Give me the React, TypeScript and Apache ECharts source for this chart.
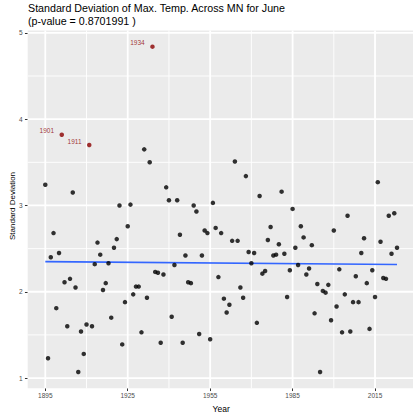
import React, { useEffect, useRef } from "react";
import * as echarts from "echarts";

// June standard deviation of max temperature, one value per year from 1895
const firstYear = 1895;
const sdValues = [
  3.24, 1.23, 2.40, 2.68, 1.81, 2.45, 3.82, 2.11, 1.60, 2.15,
  3.15, 2.05, 1.07, 1.54, 1.28, 1.62, 3.70, 1.60, 2.32, 2.57,
  2.43, 2.02, 2.10, 2.33, 1.70, 2.51, 2.61, 3.00, 1.39, 1.88,
  2.76, 3.01, 1.97, 2.06, 2.06, 1.53, 3.65, 1.93, 3.50, 4.84,
  2.23, 2.22, 1.41, 2.20, 3.21, 3.06, 1.71, 2.31, 3.06, 2.66,
  1.41, 2.42, 2.11, 2.10, 3.00, 2.93, 1.51, 2.42, 2.71, 2.68,
  1.45, 3.03, 2.74, 2.17, 2.68, 1.92, 1.76, 1.85, 2.59, 3.51,
  2.59, 2.05, 1.93, 3.34, 2.46, 2.33, 2.45, 1.64, 3.11, 2.21,
  2.24, 2.60, 2.75, 2.42, 2.43, 2.55, 3.16, 2.44, 1.94, 2.25,
  2.96, 2.51, 2.31, 2.76, 2.63, 2.20, 2.27, 2.54, 1.75, 2.09,
  1.07, 2.01, 1.99, 2.08, 1.67, 2.71, 1.83, 2.26, 1.53, 1.97,
  2.88, 1.54, 1.88, 2.18, 1.88, 2.45, 2.62, 2.10, 1.57, 2.25,
  1.94, 3.27, 2.58, 2.16, 2.15, 2.88, 2.44, 2.91, 2.51,
];
const years = sdValues.map((_, i) => firstYear + i);

// Outlier years that get a red point and a year label
const highlightYears = [1901, 1911, 1934];

// Linear fit endpoints
const trendYears = [1895, 2023];
const trendValues = [2.35, 2.316];

const xBreaks = [1895, 1925, 1955, 1985, 2015];
const xMinorBreaks = [1910, 1940, 1970, 2000];
const yBreaks = [1, 2, 3, 4, 5];
const yMinorBreaks = [1.5, 2.5, 3.5, 4.5];

const titleText =
  "Standard Deviation of Max. Temp. Across MN for June\n(p-value = 0.8701991 )";
const yTitle = "Standard Deviation";

const FONT = "'Liberation Sans', Arial, Helvetica, sans-serif";

// ggplot-style 5% padding on each side of the data range
function expandRange(vals: number[]): [number, number] {
  const lo = Math.min(...vals);
  const hi = Math.max(...vals);
  const pad = (hi - lo) * 0.05;
  return [lo - pad, hi + pad];
}

export default function App() {
  const ref = useRef<HTMLDivElement>(null);

  useEffect(() => {
    if (!ref.current) return;
    const chart = echarts.init(ref.current, null, { renderer: "svg" });

    const [xMin, xMax] = expandRange(years);
    const [yMin, yMax] = expandRange(sdValues);

    const normalPts: number[][] = [];
    const redPts: any[] = [];
    years.forEach((yr, i) => {
      if (highlightYears.includes(yr)) {
        redPts.push({ value: [yr, sdValues[i]], label: { formatter: String(yr) } });
      } else {
        normalPts.push([yr, sdValues[i]]);
      }
    });

    // one short line series per white grid line
    const gridSeries = (vertical: boolean, v: number, major: boolean) => ({
      type: "line",
      z: 2,
      silent: true,
      symbol: "none",
      showSymbol: false,
      clip: false,
      data: vertical ? [[v, yMin], [v, yMax]] : [[xMin, v], [xMax, v]],
      lineStyle: { color: "#FFFFFF", width: major ? 1.8 : 0.9, opacity: 1 },
    });

    chart.setOption({
      animation: false,
      title: {
        text: titleText,
        left: 28,
        top: 2,
        padding: 0,
        textStyle: {
          fontFamily: FONT,
          fontSize: 10.7,
          lineHeight: 12.5,
          fontWeight: "normal",
          color: "#000000",
        },
      },
      graphic: [
        {
          type: "text",
          x: 12.3,
          y: 206,
          rotation: Math.PI / 2,
          style: {
            text: yTitle,
            fontFamily: FONT,
            fontSize: 8,
            fill: "#000000",
            align: "center",
            verticalAlign: "middle",
          },
        },
      ],
      grid: {
        left: 27.7,
        top: 30.4,
        width: 386.9,
        height: 357.9,
        containLabel: false,
        outerBoundsMode: "none",
        show: true,
        backgroundColor: "#EBEBEB",
        borderWidth: 0,
      },
      xAxis: {
        type: "value",
        min: xMin,
        max: xMax,
        name: "Year",
        nameLocation: "middle",
        nameGap: 11,
        nameTextStyle: { fontFamily: FONT, fontSize: 8.5, color: "#000000" },
        axisLine: { show: false },
        axisTick: {
          show: true,
          length: 2.75,
          lineStyle: { color: "#333333", width: 1 },
          customValues: xBreaks,
        },
        axisLabel: {
          fontFamily: FONT,
          fontSize: 6.5,
          color: "#4D4D4D",
          margin: 4,
          customValues: xBreaks,
          formatter: (v: number) => String(v),
        },
        splitLine: { show: false },
      },
      yAxis: {
        type: "value",
        min: yMin,
        max: yMax,
        axisLine: { show: false },
        axisTick: {
          show: true,
          length: 2.75,
          lineStyle: { color: "#333333", width: 1 },
          customValues: yBreaks,
        },
        axisLabel: {
          fontFamily: FONT,
          fontSize: 6.5,
          color: "#4D4D4D",
          margin: 5,
          customValues: yBreaks,
          formatter: (v: number) => String(v),
        },
        splitLine: { show: false },
      },
      series: [
        ...xMinorBreaks.map((v) => gridSeries(true, v, false)),
        ...yMinorBreaks.map((v) => gridSeries(false, v, false)),
        ...xBreaks.map((v) => gridSeries(true, v, true)),
        ...yBreaks.map((v) => gridSeries(false, v, true)),
        {
          type: "line",
          z: 3,
          data: trendYears.map((yr, i) => [yr, trendValues[i]]),
          showSymbol: false,
          symbol: "none",
          silent: true,
          lineStyle: { color: "#3366FF", width: 1.7 },
        },
        {
          type: "scatter",
          z: 4,
          data: normalPts,
          symbolSize: 4.5,
          itemStyle: { color: "#000000" },
          silent: true,
        },
        {
          type: "scatter",
          z: 5,
          data: redPts,
          symbolSize: 4.5,
          itemStyle: { color: "#8B0000" },
          silent: true,
          label: {
            show: true,
            position: "left",
            distance: 5.5,
            offset: [0, -4],
            fontFamily: FONT,
            fontSize: 6.5,
            color: "#8B0000",
          },
        },
      ],
    });

    return () => chart.dispose();
  }, []);

  return (
    <div
      ref={ref}
      style={{ position: "fixed", left: 0, top: 0, width: 413, height: 417, background: "#ffffff" }}
    />
  );
}
